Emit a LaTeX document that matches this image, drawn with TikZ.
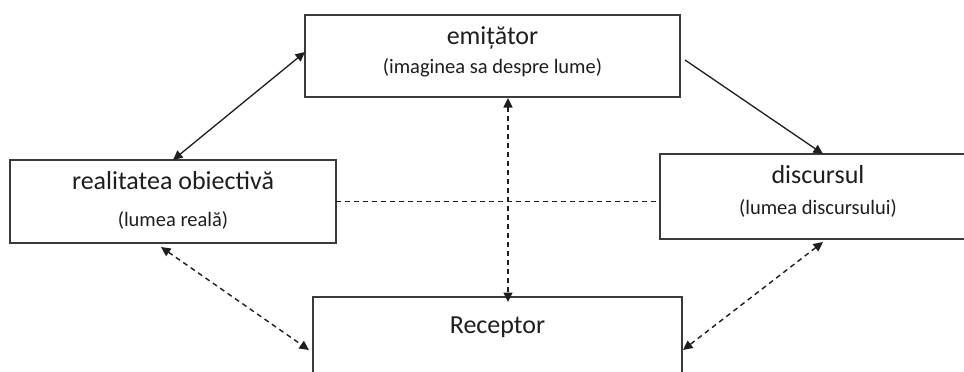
\documentclass[tikz,border=0pt]{standalone}
\usepackage{fontspec}
\setmainfont{Carlito}
\usetikzlibrary{arrows.meta}
\definecolor{boxline}{HTML}{3A3A3A}
\definecolor{ink}{HTML}{1E1E1E}
\tikzset{
  box/.style={draw=boxline, line width=1.4pt, rectangle, inner sep=0pt, outer sep=0pt},
  title/.style={anchor=base, inner sep=0pt, text=ink, font=\fontsize{26}{30}\selectfont},
  subtitle/.style={anchor=base, inner sep=0pt, text=ink, font=\fontsize{20.5}{24}\selectfont},
  solidlink/.style={draw=ink, line width=1.3pt},
  dashlink/.style={draw=ink, line width=1.4pt, dash pattern=on 5pt off 4pt},
}
\begin{document}
\begin{tikzpicture}[x=1pt,y=-1pt, >={Triangle[length=9.5pt,width=9pt]}]
  \clip (0,0) rectangle (964,372);
  \fill[white] (0,0) rectangle (964,372);

  % boxes
  \node[box, minimum width=375pt, minimum height=82pt]  (emit) at (492.5,56)  {};
  \node[box, minimum width=326pt, minimum height=83pt]  (real) at (173,201.5) {};
  \node[box, minimum width=316pt, minimum height=85pt]  (disc) at (818,196.5) {};
  \node[box, minimum width=369pt, minimum height=106pt] (rec)  at (497.5,350) {};

  % texts
  \node[title]    (emitT) at (492.5,44) {emițător};
  \node[subtitle] (emitS) at (492.5,73) {(imaginea sa despre lume)};
  \node[title]    (realT) at (173,189)  {realitatea obiectivă};
  \node[subtitle] (realS) at (173,226)  {(lumea reală)};
  \node[title]    (discT) at (818,183)  {discursul};
  \node[subtitle] (discS) at (818,214)  {(lumea discursului)};
  \node[title]    (recT)  at (497.5,333) {Receptor};

  % solid connectors
  \draw[solidlink, <->] (real.north) -- ([yshift=4pt]emit.west);
  \draw[solidlink, ->] ([xshift=5pt,yshift=-4pt]emit.east) -- ([xshift=5pt]disc.north);

  % dashed connectors
  \draw[dashlink, <->] ([xshift=15.5pt,yshift=-1pt]emit.south) -- ([xshift=10.5pt,yshift=-5pt]rec.north);
  \draw[dashlink] (real.east) -- (real.east -| disc.west);
  \draw[dashlink, <->] ([xshift=-12pt,yshift=-4pt]real.south) -- ([xshift=-4pt]rec.west);
  \draw[dashlink, <->] ([xshift=5pt,yshift=-3pt]disc.south) -- ([xshift=1pt]rec.east);
\end{tikzpicture}
\end{document}
